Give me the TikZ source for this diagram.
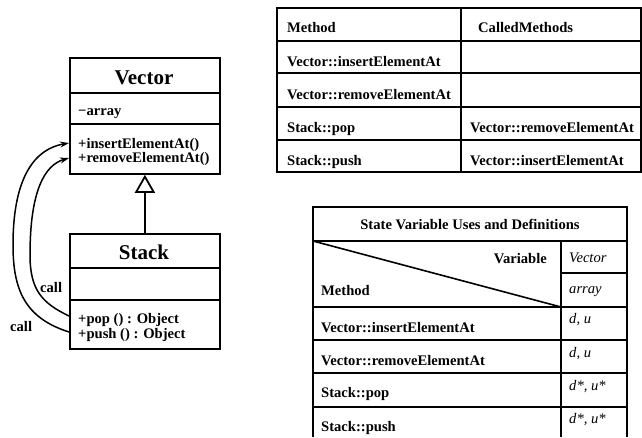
\documentclass[tikz,border=0pt]{standalone}
\usepackage{fontspec}
\setmainfont{Liberation Serif}
\usetikzlibrary{arrows.meta}
\begin{document}
\begin{tikzpicture}[x=1pt,y=-1pt,
  box/.style={draw, line width=1.8pt, minimum width=150pt, inner sep=0pt, anchor=north west},
  rule/.style={line width=1.8pt},
  lbl/.style={font=\fontsize{14.6}{15}\selectfont\bfseries, inner sep=0pt, anchor=base west},
  ital/.style={font=\fontsize{14.6}{15}\selectfont\itshape, inner sep=0pt, anchor=base west},
  ttl/.style={font=\fontsize{21}{22}\selectfont\bfseries, inner sep=0pt, anchor=base},
  callarrow/.style={line width=1.5pt, -{Stealth[length=9pt,width=6pt]}},
]
\useasboundingbox (0,0) rectangle (642,437);

% ---- class Vector ----
\node[box, minimum height=35pt] (vtitle) at (69,57) {};
\node[box, minimum height=31pt] (vattr) at (69,92) {};
\node[box, minimum height=50pt] (vops) at (69,123) {};
\node[ttl] (vname) at (144,84) {Vector};
\node[lbl] (varr) at (78,115) {\textminus array};
\node[lbl] (vins) at (78,148) {+insertElementAt()};
\node[lbl] (vrem) at (78,162) {+removeElementAt()};

% ---- class Stack ----
\node[box, minimum height=34pt] (stitle) at (69,233) {};
\node[box, minimum height=32pt] (sattr) at (69,267) {};
\node[box, minimum height=49pt] (sops) at (69,299) {};
\node[ttl] (sname) at (144,259) {Stack};
\node[lbl] (spop) at (78,323) {+pop () : Object};
\node[lbl] (spush) at (78,338) {+push () : Object};

% generalisation
\draw[line width=1.8pt, -{Triangle[open, length=18pt, width=20pt]}] (stitle.north) -- (vops.south);

% call dependencies
\coordinate (o1) at (sops.west |- 0,332);
\coordinate (o2) at (vops.west |- 0,143);
\coordinate (i1) at (sops.west |- 0,316);
\coordinate (i2) at (vops.west |- 0,158);
\draw[callarrow] (o1) .. controls (25,318) and (13,290) .. (13,245)
                      .. controls (13,185) and (30,150) .. (o2);
\draw[callarrow] (i1) .. controls (42,303) and (30,290) .. (30,255)
                      .. controls (30,190) and (45,165) .. (i2);
\node[lbl] (callin) at (40,292) {call};
\node[lbl] (callout) at (10,331) {call};

% ---- table of called methods ----
\draw[rule] (277,8) rectangle (641,172);
\foreach \yy in {41,73,107,140} \draw[rule] (277,\yy) -- (641,\yy);
\draw[rule] (461,8) -- (461,172);
\node[lbl] (th1) at (287,32) {Method};
\node[lbl] (th2) at (478,32) {CalledMethods};
\node[lbl] (tm1) at (287,66) {Vector::insertElementAt};
\node[lbl] (tm2) at (287,99) {Vector::removeElementAt};
\node[lbl] (tm3) at (287,132) {Stack::pop};
\node[lbl] (tm4) at (287,165) {Stack::push};
\node[lbl] (tc3) at (470,132) {Vector::removeElementAt};
\node[lbl] (tc4) at (470,165) {Vector::insertElementAt};

% ---- table of state variable uses and definitions ----
\draw[rule] (313,437) -- (313,207) -- (627,207) -- (627,437);
\foreach \yy in {241,307,340,373,407} \draw[rule] (313,\yy) -- (627,\yy);
\draw[rule] (561,241) -- (561,437);
\draw[rule] (561,273) -- (627,273);
\draw[line width=1.6pt] (313,241) -- (561,307);
\node[lbl, anchor=base] (sttl) at (470,229) {State Variable Uses and Definitions};
\node[lbl, anchor=base east] (svar) at (547,263) {Variable};
\node[lbl] (smeth) at (321,295) {Method};
\node[lbl] (sr1) at (321,332) {Vector::insertElementAt};
\node[lbl] (sr2) at (321,365) {Vector::removeElementAt};
\node[lbl] (sr3) at (321,397) {Stack::pop};
\node[lbl] (sr4) at (321,431) {Stack::push};
\node[ital] (scls) at (569,262) {Vector};
\node[ital] (sattrname) at (569,293) {array};
\node[ital] (sv1) at (569,323) {d, u};
\node[ital] (sv2) at (569,357) {d, u};
\node[ital] (sv3) at (569,390) {d*, u*};
\node[ital] (sv4) at (569,423) {d*, u*};
\end{tikzpicture}
\end{document}
